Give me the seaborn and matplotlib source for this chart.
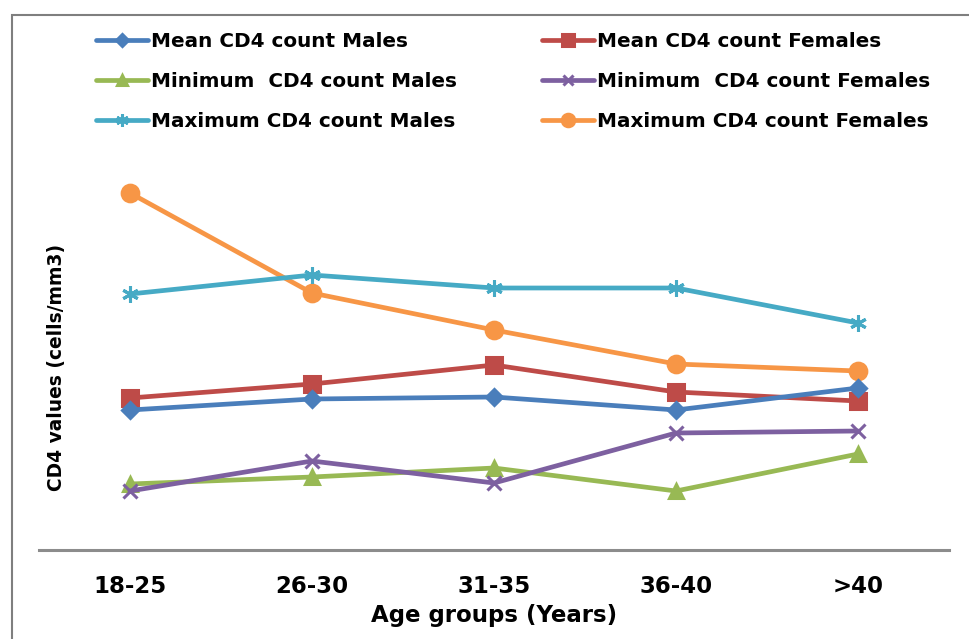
import matplotlib
matplotlib.use("Agg")
import matplotlib.pyplot as plt
from matplotlib.patches import Rectangle
import pandas as pd
import seaborn as sns

# %%
age_groups = ["18-25", "26-30", "31-35", "36-40", ">40"]
mean_males = [280, 302, 306, 280, 324]
mean_females = [304, 332, 370, 316, 298]
min_males = [132, 146, 164, 118, 192]
min_females = [118, 178, 134, 234, 238]
max_males = [512, 550, 524, 524, 454]
max_females = [714, 514, 440, 372, 358]

# legend fills column-wise, so males first then females
series = {
    "Mean CD4 count Males": mean_males,
    "Minimum  CD4 count Males": min_males,
    "Maximum CD4 count Males": max_males,
    "Mean CD4 count Females": mean_females,
    "Minimum  CD4 count Females": min_females,
    "Maximum CD4 count Females": max_females,
}
colors = {
    "Mean CD4 count Males": "#4A7EBB",
    "Minimum  CD4 count Males": "#98B954",
    "Maximum CD4 count Males": "#46AAC5",
    "Mean CD4 count Females": "#BE4B48",
    "Minimum  CD4 count Females": "#7D60A0",
    "Maximum CD4 count Females": "#F79646",
}
markers = {
    "Mean CD4 count Males": ("D", 8),
    "Minimum  CD4 count Males": ("^", 10),
    "Maximum CD4 count Males": ((6, 2, 0), 12),
    "Mean CD4 count Females": ("s", 11),
    "Minimum  CD4 count Females": ("x", 10),
    "Maximum CD4 count Females": ("o", 12),
}

col_x = "Age groups (Years)"
col_y = "CD4 values (cells/mm3)"
rows = []
for name, vals in series.items():
    for age, v in zip(age_groups, vals):
        rows.append({col_x: age, col_y: v, "Series": name})
df = pd.DataFrame(rows)

# %%
sns.set_style("white")
narrow = ["DejaVu Sans Condensed", "Liberation Sans Narrow", "DejaVu Sans"]
plt.rcParams["font.family"] = narrow

fig = plt.figure(figsize=(9.69, 6.39), dpi=100)
W, H = 969, 639
ax = fig.add_axes([39 / W, 1 - 550 / H, (949 - 39) / W, (550 - 20) / H])

draw_order = [
    "Maximum CD4 count Females", "Maximum CD4 count Males", "Mean CD4 count Females",
    "Mean CD4 count Males", "Minimum  CD4 count Males", "Minimum  CD4 count Females",
]
for name in draw_order:
    m, ms = markers[name]
    sns.lineplot(
        data=df[df["Series"] == name],
        x=col_x,
        y=col_y,
        color=colors[name],
        marker=m,
        markersize=ms,
        markeredgewidth=2.2,
        markeredgecolor=colors[name],
        linewidth=3.4,
        label=name,
        ax=ax,
    )
ax.set_xlim(-0.5, 4.5)
ax.set_ylim(0, 1060)
ax.set_yticks([])
for s in ["top", "right", "left"]:
    ax.spines[s].set_visible(False)
ax.spines["bottom"].set_color("#8c8c8c")
ax.spines["bottom"].set_linewidth(2.2)
ax.tick_params(axis="x", length=0, pad=18, labelsize=16.5, colors="black")
for lbl in ax.get_xticklabels():
    lbl.set_fontweight("bold")
ax.set_xlabel(col_x, fontsize=16.5, fontweight="bold", labelpad=4, color="black")
ax.set_ylabel(col_y, fontsize=13.4, fontweight="bold", family="DejaVu Sans", color="black")
ax.yaxis.set_label_coords((66 - 39) / 910, (550 - 367) / 530)

handles, labels = ax.get_legend_handles_labels()
lookup = dict(zip(labels, handles))
order = list(series.keys())
leg = ax.legend(
    [lookup[k] for k in order], order, ncol=2, frameon=False,
    loc="upper left", bbox_to_anchor=((78 - 39) / 910, 1.011),
    prop={"family": narrow, "weight": "bold", "size": 14.4},
    handlelength=2.6, handletextpad=0.15, columnspacing=4.25, labelspacing=1.05,
    markerscale=0.75,
)
for t in leg.get_texts():
    t.set_color("black")

fig.patches.append(Rectangle((12 / W, -0.1), 2, 1 - 15 / H + 0.1, transform=fig.transFigure,
                             fill=False, edgecolor="#7f7f7f", linewidth=1.5))

fig.savefig("out.png", dpi=100)
